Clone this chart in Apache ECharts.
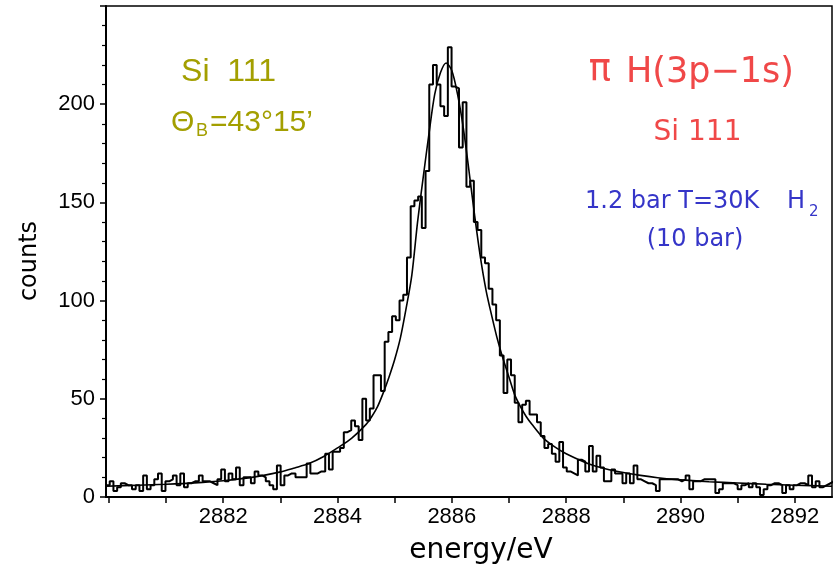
<!DOCTYPE html>
<html>
<head>
<meta charset="utf-8">
<script src="https://cdn.jsdelivr.net/npm/echarts@6/dist/echarts.min.js"></script>
<style>
html,body{margin:0;padding:0;background:#fff;}
#chart{width:833px;height:570px;}
</style>
</head>
<body>
<div id="chart"></div>
<script>
// ---- data ----
const binStart = 2879.95;   // eV, left edge of first bin
const binWidth = 0.065;     // eV
const counts = [
  6, 8, 3, 5, 7, 6, 6, 4, 6, 3, 11, 4, 6, 9, 12, 3, 8, 9, 11, 6,
  12, 5, 7, 8, 8, 11, 8, 8, 7, 6, 9, 14, 8, 12, 9, 15, 6, 10, 10, 7,
  13, 11, 10, 8,
  6, 4, 16, 6, 11, 12, 12, 10, 10, 10, 17, 12, 12, 13, 13, 22, 14, 23, 23, 25,
  33, 34, 39, 36, 29, 50, 39, 45, 62, 62, 54, 79, 84, 92, 90, 100, 103, 122,
  148, 151, 153, 137, 166, 210, 220, 210, 199, 194, 229, 209, 208, 178, 201, 158,
  161, 140, 136, 122, 119, 106, 98, 90,
  72, 53, 70, 62, 48, 38, 47, 49, 42, 42, 38, 31, 25, 27, 22, 18, 28, 15, 13, 12,
  11, 19, 18, 13, 26, 13, 21, 15, 8, 8, 14, 12, 12, 7, 12, 7, 16, 9, 8, 7,
  7, 6, 3, 9, 9, 9, 9, 9, 8, 9, 11, 4, 8, 8, 9, 9, 9, 9, 2, 4,
  7, 7, 7, 6, 4, 6, 7, 5, 7, 5, 1, 4, 6, 7, 7, 6, 2, 6, 4, 6,
  7, 7, 6, 11, 5, 8, 5, 6, 7, 8
];
const fitEnergy = [2879.95, 2880.5, 2881, 2881.5, 2882, 2882.5, 2883, 2883.25, 2883.5, 2883.75,
  2884, 2884.25, 2884.5, 2884.6, 2884.7, 2884.8, 2884.9, 2885, 2885.1, 2885.2,
  2885.3, 2885.4, 2885.5, 2885.6, 2885.7, 2885.8, 2885.9, 2886, 2886.1, 2886.2,
  2886.3, 2886.4, 2886.5, 2886.6, 2886.7, 2886.8, 2886.9, 2887, 2887.1, 2887.2,
  2887.3, 2887.4, 2887.6, 2887.8, 2888, 2888.4, 2888.7, 2889, 2889.3, 2889.6,
  2890, 2890.5, 2891, 2891.5, 2892, 2892.65];
const fitCounts = [5.5, 6, 6.5, 7.2, 8.3, 10, 12.8, 14.8, 17, 20.5,
  25, 30, 37, 41, 46, 53, 61, 70, 81, 96,
  113, 140, 163, 185, 205, 216, 221, 217, 205, 188,
  166, 143, 122, 105, 92, 80, 70, 61, 52, 46,
  41, 37, 30, 25.5, 22, 16.8, 14.3, 12.5, 11, 9.8,
  8.7, 7.8, 7.1, 6.5, 6, 5.5];
const xTickValues = [2880, 2881, 2882, 2883, 2884, 2885, 2886, 2887, 2888, 2889, 2890, 2891, 2892];
const xLabelValues = [2882, 2884, 2886, 2888, 2890, 2892];
const xRange = [2879.95, 2892.65];
const yRange = [0, 250];
const yStep = 50;

// ---- build series ----
const histData = counts.map((c, i) => [binStart + i * binWidth, c]);
histData.push([binStart + counts.length * binWidth, counts[counts.length - 1]]);
const fitData = fitEnergy.map((e, i) => [e, fitCounts[i]]);

const olive = '#a39f00', red = '#f04848', blue = '#3535c8';
const sansL = '"Liberation Sans", Arial, sans-serif';
const sansD = '"DejaVu Sans", sans-serif';

const chart = echarts.init(document.getElementById('chart'), null, {renderer: 'canvas'});
chart.setOption({
  animation: false,
  backgroundColor: '#fff',
  grid: {left: 106, right: 1, top: 6, bottom: 73, show: true, borderColor: '#000', borderWidth: 1.5, backgroundColor: 'transparent'},
  xAxis: {
    type: 'value', min: xRange[0], max: xRange[1],
    axisLine: {show: true, onZero: false, lineStyle: {color: '#000', width: 2}},
    axisTick: {show: true, inside: false, length: 6, customValues: xTickValues, lineStyle: {color: '#000', width: 1.5}},
    axisLabel: {show: true, customValues: xLabelValues, margin: 9, color: '#000', fontSize: 22, fontFamily: sansL,
                formatter: v => String(Math.round(v))},
    splitLine: {show: false}
  },
  yAxis: {
    type: 'value', min: yRange[0], max: yRange[1], interval: yStep,
    axisLine: {show: true, onZero: false, lineStyle: {color: '#000', width: 2}},
    axisTick: {show: true, inside: false, length: 6, lineStyle: {color: '#000', width: 1.5}},
    minorTick: {show: true, splitNumber: 5, length: 4, lineStyle: {color: '#000', width: 1.2}},
    axisLabel: {show: true, showMaxLabel: false, margin: 11, color: '#000', fontSize: 22, fontFamily: sansL},
    splitLine: {show: false}, minorSplitLine: {show: false}
  },
  series: [
    {type: 'line', name: 'data', data: histData, step: 'end', showSymbol: false, symbol: 'none',
     lineStyle: {color: '#000', width: 2}, clip: true, z: 3},
    {type: 'line', name: 'fit', data: fitData, smooth: 0.3, showSymbol: false, symbol: 'none',
     lineStyle: {color: '#000', width: 1.6}, clip: true, z: 4}
  ],
  graphic: [
    {type: 'text', style: {text: 'Si  111', x: 228.5, y: 72.5, textAlign: 'center', textVerticalAlign: 'middle', font: '32px ' + sansL, fill: olive}},
    {type: 'text', style: {text: 'Θ', x: 171, y: 122.5, textAlign: 'left', textVerticalAlign: 'middle', font: '30px ' + sansL, fill: olive}},
    {type: 'text', style: {text: 'B', x: 196, y: 131, textAlign: 'left', textVerticalAlign: 'middle', font: '18px ' + sansL, fill: olive}},
    {type: 'text', style: {text: '=43°15’', x: 210, y: 122.5, textAlign: 'left', textVerticalAlign: 'middle', font: '30px ' + sansL, fill: olive}},
    {type: 'text', style: {text: 'π', x: 600, y: 70, textAlign: 'center', textVerticalAlign: 'middle', font: '37px ' + sansD, fill: red}},
    {type: 'text', style: {text: 'H(3p−1s)', x: 626, y: 72.5, textAlign: 'left', textVerticalAlign: 'middle', font: '35px ' + sansD, fill: red}},
    {type: 'text', style: {text: 'Si 111', x: 697.5, y: 132.5, textAlign: 'center', textVerticalAlign: 'middle', font: '28px ' + sansD, fill: red}},
    {type: 'text', style: {text: '1.2 bar T=30K', x: 585, y: 201.5, textAlign: 'left', textVerticalAlign: 'middle', font: '24px ' + sansD, fill: blue}},
    {type: 'text', style: {text: 'H', x: 787, y: 201.5, textAlign: 'left', textVerticalAlign: 'middle', font: '24px ' + sansD, fill: blue}},
    {type: 'text', style: {text: '2', x: 809, y: 212, textAlign: 'left', textVerticalAlign: 'middle', font: '15px ' + sansD, fill: blue}},
    {type: 'text', style: {text: '(10 bar)', x: 695, y: 240, textAlign: 'center', textVerticalAlign: 'middle', font: '24px ' + sansD, fill: blue}},
    {type: 'text', style: {text: 'energy/eV', x: 481, y: 550.5, textAlign: 'center', textVerticalAlign: 'middle', font: '28px ' + sansD, fill: '#000'}},
    {type: 'text', rotation: Math.PI / 2, x: 30, y: 261, style: {text: 'counts', x: 0, y: 0, textAlign: 'center', textVerticalAlign: 'middle', font: '24px ' + sansD, fill: '#000'}}
  ]
});
</script>
</body>
</html>
